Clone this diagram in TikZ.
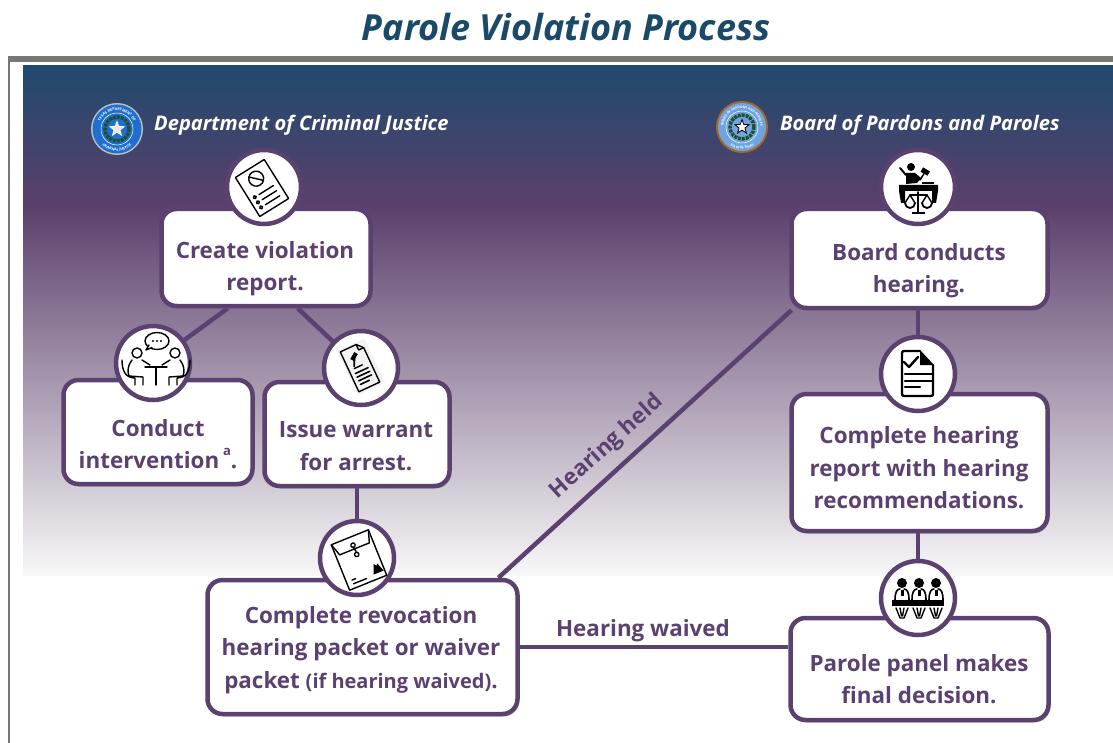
\documentclass[tikz,border=0pt]{standalone}
\usepackage{fontspec}
\setmainfont{Open Sans}
\usetikzlibrary{shadows,backgrounds,decorations.text,shapes.geometric}
\definecolor{parolepurple}{HTML}{5B4170}
\definecolor{titleblue}{HTML}{1B4A68}
\definecolor{bandblue}{HTML}{1F4A6E}
\definecolor{bandpurple}{HTML}{5B3F6B}
\definecolor{framegray}{HTML}{7A7674}
\definecolor{dcjblue}{HTML}{1E6FD0}
\definecolor{bppblue}{HTML}{6FA4DC}
\definecolor{wreathgreen}{HTML}{1F4F2F}
\tikzset{
    stepbox/.style={draw=parolepurple, line width=4.5pt, fill=white, rounded corners=15pt, drop shadow={opacity=.45, shadow xshift=1.5pt, shadow yshift=-2.5pt}},
    iconcirc/.style={draw=parolepurple, line width=4.5pt, fill=white, circle, minimum size=74pt, inner sep=0pt},
    stepline/.style={draw=parolepurple, line width=4.5pt},
    steptext/.style={text=parolepurple, font=\fontsize{22.4}{32.5}\selectfont\bfseries, align=center},
    headtext/.style={text=white, inner sep=0pt, font=\fontsize{20.1}{24}\selectfont\bfseries\itshape},
    icon/.style={black, line width=1.4pt, line join=round, line cap=round},
    sealtext/.style 2 args={decorate, decoration={text along path, text align=center, text={|\fontsize{#1}{4}\selectfont\bfseries\color{white}|#2}}},
    wreath/.style={draw=wreathgreen, line width=3.5pt, dash pattern=on 3pt off 1pt},
}
\newcommand{\sealstar}[3]{\node[star, star points=5, star point ratio=2.4, fill=#2, draw=#3, line width=.8pt, minimum size=#1pt, inner sep=0pt] at (0,0) {};}
\begin{document}
\begin{tikzpicture}[x=1pt, y=-1pt]
    \useasboundingbox (0,0) rectangle (1113,743);

    \fill[framegray] (8,56) rectangle (1113,62);
    \fill[framegray] (8,56) rectangle (10,743);

    \node[text=titleblue, font=\fontsize{36}{40}\selectfont\bfseries\itshape] (title) at (566,27) {Parole Violation Process};
    \node[headtext, anchor=west] (dcjhead) at (154,125) {Department of Criminal Justice};
    \node[headtext, anchor=west] (bpphead) at (780,125) {Board of Pardons and Paroles};

    \node[stepbox, minimum width=209pt, minimum height=97pt] (createbox) at (266,257.5) {};
    \node[stepbox, minimum width=189pt, minimum height=104pt] (conductbox) at (158,432) {};
    \node[stepbox, minimum width=185pt, minimum height=104pt] (issuebox) at (357,434) {};
    \node[stepbox, minimum width=310pt, minimum height=134pt] (packetbox) at (362.5,647) {};
    \node[stepbox, minimum width=256pt, minimum height=99pt] (boardbox) at (919.5,258.5) {};
    \node[stepbox, minimum width=256pt, minimum height=137pt] (reportbox) at (919.5,462.5) {};
    \node[stepbox, minimum width=258pt, minimum height=102pt] (panelbox) at (919.5,669) {};

    \node[iconcirc] (createcirc) at (264,187) {};
    \node[iconcirc] (conductcirc) at (153,363) {};
    \node[iconcirc] (issuecirc) at (361,368) {};
    \node[iconcirc] (packetcirc) at (357,558) {};
    \node[iconcirc] (boardcirc) at (918,187) {};
    \node[iconcirc] (reportcirc) at (918,374) {};
    \node[iconcirc] (panelcirc) at (918,598) {};

    % bands and connectors go under the boxes
    \begin{pgfonlayer}{background}
        \shade[top color=bandblue, bottom color=bandpurple] (23,66) rectangle (1113,205);
        \shade[top color=bandpurple, bottom color=white!97!black] (23,204.5) rectangle (1113,575);
        \draw[stepline] (createbox.233) -- (conductcirc);
        \draw[stepline] (createbox.302) -- (issuecirc);
        \draw[stepline] (issuebox.south) -- (packetcirc);
        \draw[stepline] (packetbox.27) -- (boardbox.202);
        \draw[stepline] (packetbox.east) -- (packetbox.east -| panelbox.west);
        \draw[stepline] (reportcirc |- boardbox.south) -- (reportcirc);
        \draw[stepline] (panelcirc |- reportbox.south) -- (panelcirc);
    \end{pgfonlayer}

    % department seal
    \begin{scope}[shift={(117,129)}]
        \fill[white!75!black] (0,0) circle (26pt);
        \fill[dcjblue] (0,0) circle (24.5pt);
        \draw[white, line width=.5pt] (0,0) circle (16pt);
        \path[sealtext={3.6}{TEXAS DEPARTMENT OF}] (-18.2,-3.2) arc[start angle=170, end angle=10, radius=18.5pt];
        \path[sealtext={3.6}{CRIMINAL JUSTICE}] (-20.7,7.5) arc[start angle=200, end angle=340, radius=22pt];
        \draw[wreath] (0,0) circle (12pt);
        \sealstar{15}{white!80!gray}{white}
    \end{scope}

    % board seal
    \begin{scope}[shift={(742,127)}]
        \fill[brown!70!orange!80!black] (0,0) circle (26pt);
        \fill[bppblue] (0,0) circle (24pt);
        \draw[white, line width=.5pt] (0,0) circle (16pt);
        \path[sealtext={3.2}{BOARD OF PARDONS AND PAROLES}] (-17.4,6.3) arc[start angle=200, end angle=-20, radius=18.5pt];
        \path[sealtext={3.2}{STATE OF TEXAS}] (-15.6,15.6) arc[start angle=225, end angle=315, radius=22pt];
        \draw[wreath] (0,0) circle (12pt);
        \sealstar{15}{white}{black}
    \end{scope}

    \node[steptext] (createtext) at (265,268.5) {Create violation\\report.};
    \node[steptext] (conducttext) at (158,444) {Conduct\\intervention\,\raisebox{13pt}{\fontsize{13}{13}\selectfont a}.};
    \node[steptext] (issuetext) at (356,446) {Issue warrant\\for arrest.};
    \node[steptext] (packettext) at (361,650) {Complete revocation\\hearing packet or waiver\\packet {\fontsize{20}{20}\selectfont (if hearing waived)}.};
    \node[steptext] (boardtext) at (919,270.5) {Board conducts\\hearing.};
    \node[steptext] (reporttext) at (919,468) {Complete hearing\\report with hearing\\recommendations.};
    \node[steptext] (paneltext) at (919,679) {Parole panel makes\\final decision.};
    \node[steptext] (waivedlabel) at (643,631) {Hearing waived};
    \node[steptext, rotate=42] (heldlabel) at (607,447) {Hearing held};

    % violation report icon
    \begin{scope}[shift={(262,188)}, rotate=32, icon]
        \draw (-17,-23) rectangle (17,23);
        \draw (0,-11) circle (7.5pt);
        \draw (-5,-16) -- (5,-6);
        \foreach \y in {4,10,16} {
            \draw (-11,\y) circle (1.6pt);
            \draw (-6,\y) -- (11,\y);
        }
    \end{scope}

    % intervention icon
    \begin{scope}[shift={(156,365)}, icon]
        \draw (1,-24) ellipse (12pt and 8.5pt);
        \draw[fill=white] (-7,-20) -- (-10,-15) -- (-4,-17.5);
        \foreach \x in {-3,1,5} \fill (\x,-24) circle (1.1pt);
        \foreach \s in {1,-1} {
            \begin{scope}[xscale=\s]
                \draw (-19,-12) circle (5pt);
                \draw (-24,-5) .. controls (-28,0) and (-29,6) .. (-27,11) -- (-13,12) -- (-13,20);
                \draw (-14,-5) -- (-6,0);
                \draw (-34,-5) .. controls (-34,5) and (-31,13) .. (-21,13) -- (-21,20);
            \end{scope}
        }
        \draw (-11,2) -- (11,2);
        \draw (0,2) -- (0,20);
    \end{scope}

    % warrant icon
    \begin{scope}[shift={(360,367)}, rotate=25, icon]
        \fill[black!5] (-14,-24) rectangle (16,25);
        \draw (-11.5,-22) -- (6,-22) -- (11.5,-16) -- (11.5,22) -- (-11.5,22) -- cycle;
        \draw (6,-22) -- (6,-16) -- (11.5,-16);
        \fill[rotate around={35:(-1,-12)}] (-5,-14) rectangle (3,-10);
        \draw[line width=1.8pt] (-1,-11) -- (-5,-3);
        \draw (-6,-1) -- (3,-1);
        \foreach \y/\w in {4/7,8/7,12/7,16/3} \draw[line width=1.6pt] (-7,\y) -- (\w,\y);
    \end{scope}

    % packet icon
    \begin{scope}[shift={(359,560)}, rotate=22, icon]
        \draw (-20,-24.5) rectangle (20,24.5);
        \draw (-20,-24.5) -- (-16,-12) -- (16,-12) -- (20,-24.5);
        \draw (0,-16) circle (2.2pt);
        \draw (0,-6) circle (2.2pt);
        \draw (0,-14) .. controls (-2,-12) and (2,-10) .. (0,-8);
        \fill (8,19) -- (12,9) -- (14,12) -- (15.5,10) -- (19,19) -- cycle;
        \draw (-14,16) -- (-10,16);
        \draw (-14,20) -- (0,20);
    \end{scope}

    % hearing report icon
    \begin{scope}[icon, line width=2.4pt]
        \draw[rounded corners=2pt] (920,351) -- (902,351) -- (902,396) -- (933,396) -- (933,365);
        \fill (920,350) -- (934,365) -- (920,365) -- cycle;
        \draw (904,362) -- (909,367) -- (918,357);
        \draw (905,374) -- (933,374);
        \draw (905,381) -- (933,381);
        \draw (905,387) -- (920,387);
    \end{scope}

    % board icon
    \begin{scope}[icon]
        \fill (911,167) circle (4pt);
        \fill (906,173) -- (915,173) -- (921,178) -- (917,183) -- (906,184) -- cycle;
        \draw[line width=2pt] (900,168) -- (906,175);
        \fill[rotate around={-30:(925,172)}] (921,169) rectangle (929,174);
        \draw[line width=1.5pt] (920,180) -- (925,172);
        \fill (922,182) rectangle (934,184);
        \fill (899,185) -- (938,185) -- (938,191) -- (936,203) -- (932,203) -- (932,191) -- (905,191) -- (905,203) -- (901,203) -- (899,191) -- cycle;
        \draw[line width=1.8pt] (918,192) -- (918,212);
        \fill (912,212) rectangle (925,214);
        \draw (910,195) -- (927,195);
        \draw[line width=1.8pt] (905,203) arc[start angle=180, end angle=360, radius=5pt];
        \draw[line width=1.8pt] (922,203) arc[start angle=180, end angle=360, radius=5pt];
        \draw (910,195) -- (905,203);
        \draw (910,195) -- (915,203);
        \draw (927,195) -- (922,203);
        \draw (927,195) -- (932,203);
    \end{scope}

    % parole panel icon
    \begin{scope}[icon]
        \fill (892,600) rectangle (944,606);
        \foreach \x in {902,919,936} {
            \fill (\x,583) circle (5pt);
            \draw[line width=1.6pt] (\x-7,600) .. controls (\x-7,592) and (\x-5,589) .. (\x-2,589);
            \draw[line width=1.6pt] (\x+7,600) .. controls (\x+7,592) and (\x+5,589) .. (\x+2,589);
            \fill (\x-1.5,590) rectangle (\x+1.5,596);
            \draw (\x-6,608) -- (\x-2,618) -- (\x+2,618) -- (\x+6,608);
            \draw (\x-2,608) -- (\x-0.5,616);
            \draw (\x+2,608) -- (\x+0.5,616);
        }
    \end{scope}
\end{tikzpicture}
\end{document}
